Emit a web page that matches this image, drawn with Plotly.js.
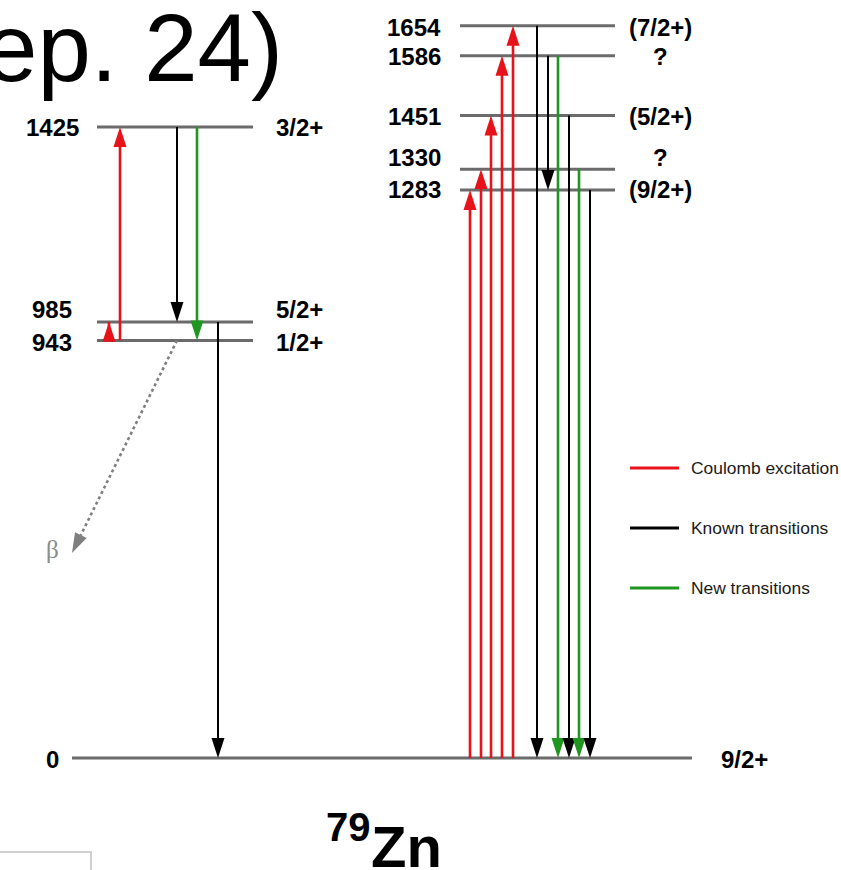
<!DOCTYPE html>
<html><head><meta charset="utf-8">
<script src="https://cdn.plot.ly/plotly-3.0.1.min.js"></script>
<style>html,body{margin:0;padding:0;background:#fff;overflow:hidden}#chart{width:841px;height:870px}</style>
</head><body><div id="chart"></div>
<script>
// ---------------- data ----------------
const leftLevelEnergies = [943, 985, 1425];
const leftLevelSpins = ['1/2+', '5/2+', '3/2+'];
const rightLevelEnergies = [1283, 1330, 1451, 1586, 1654];
const rightLevelSpins = ['(9/2+)', '?', '(5/2+)', '?', '(7/2+)'];
const groundEnergy = 0;
const groundSpin = '9/2+';
const transFrom = [943, 943, 1425, 1425, 985, 0, 0, 0, 0, 0, 1654, 1586, 1586, 1451, 1330, 1283];
const transTo   = [985, 1425, 985, 943, 0, 1283, 1330, 1451, 1586, 1654, 0, 1283, 0, 0, 0, 0];
const transType = ['coulex', 'coulex', 'known', 'new', 'known',
                   'coulex', 'coulex', 'coulex', 'coulex', 'coulex',
                   'known', 'known', 'new', 'known', 'new', 'known'];
const legendTypes = ['coulex', 'known', 'new'];
const legendLabels = ['Coulomb excitation', 'Known transitions', 'New transitions'];
const nucleusMass = '79';
const nucleusSymbol = 'Zn';
const titleFragment = 'ep. 24)';
const betaLabel = 'β';
const betaFromLevel = 943;

// ---------------- layout / style ----------------
const W = 841, H = 870;
const Y_RANGE = [-253, 1712];
const COLORS = {coulex: '#e8121a', known: '#000000', new: '#1f961f'};
const WIDTHS = {coulex: 2.6, known: 2, new: 2.6};
const LEVEL_COLOR = '#6b6b6b';
const ARROW_SIZE = 21;
const transX = [109, 120, 177, 197, 218, 470, 481, 491, 502, 513, 537, 548, 558, 569, 579, 590];
const leftSpan = [97, 253], rightSpan = [460, 615], groundSpan = [72, 692];
const leftEnergyLabelX = 52, leftSpinLabelX = 299;
const rightEnergyLabelX = 414, rightSpinLabelX = 660;
const groundEnergyLabelX = 52, groundSpinLabelX = 744;
const leftLabelShift = [-2, 12, 0];
const rightLabelShift = [0, 12, -1, -1, -2];
const betaStartX = 177, betaEndPx = [72, 553];
const FONT = 'Liberation Sans, Arial, Helvetica, sans-serif';

const pyToY = py => Y_RANGE[1] - py / H * (Y_RANGE[1] - Y_RANGE[0]);
const pyToPaper = py => 1 - py / H;

const traces = [];
const annotations = [];
const shapes = [];

// level lines
function addLevels(energies, span) {
  const xs = [], ys = [];
  energies.forEach(e => { xs.push(span[0], span[1], null); ys.push(e, e, null); });
  traces.push({x: xs, y: ys, mode: 'lines', line: {color: LEVEL_COLOR, width: 3}, hoverinfo: 'skip'});
}
addLevels(leftLevelEnergies, leftSpan);
addLevels(rightLevelEnergies, rightSpan);
addLevels([groundEnergy], groundSpan);

// transitions (arrows)
transFrom.forEach((f, i) => {
  const t = transType[i];
  traces.push({
    x: [transX[i], transX[i]], y: [f, transTo[i]], mode: 'lines+markers',
    line: {color: COLORS[t], width: WIDTHS[t]},
    marker: {symbol: 'arrow', size: ARROW_SIZE, angleref: 'previous', color: COLORS[t], line: {width: 0}},
    hoverinfo: 'skip'
  });
});

// beta decay arrow
traces.push({
  x: [betaStartX, betaEndPx[0]], y: [betaFromLevel, pyToY(betaEndPx[1])], mode: 'lines+markers',
  line: {color: '#7f7f7f', width: 2.6, dash: 'dot'},
  marker: {symbol: 'arrow', size: ARROW_SIZE, angleref: 'previous', color: '#7f7f7f', line: {width: 0}},
  hoverinfo: 'skip'
});

// level labels
function lab(x, y, text, shift, size) {
  annotations.push({x: x, y: y, xref: 'x', yref: 'y', text: text, showarrow: false,
    xanchor: 'center', yanchor: 'middle', yshift: shift,
    font: {family: FONT, size: size || 24, color: '#000', weight: 'bold'}});
}
leftLevelEnergies.forEach((e, i) => {
  lab(leftEnergyLabelX, e, '<b>' + e + '</b>', leftLabelShift[i]);
  lab(leftSpinLabelX, e, '<b>' + leftLevelSpins[i] + '</b>', leftLabelShift[i]);
});
rightLevelEnergies.forEach((e, i) => {
  lab(rightEnergyLabelX, e, '<b>' + e + '</b>', rightLabelShift[i]);
  lab(rightSpinLabelX, e, '<b>' + rightLevelSpins[i] + '</b>', rightLabelShift[i]);
});
lab(groundEnergyLabelX, groundEnergy, '<b>' + groundEnergy + '</b>', -2);
lab(groundSpinLabelX, groundEnergy, '<b>' + groundSpin + '</b>', -2);

// beta label
annotations.push({x: 52, y: pyToPaper(549), xref: 'x', yref: 'paper', text: betaLabel, showarrow: false,
  xanchor: 'center', yanchor: 'middle', font: {family: 'Liberation Serif, DejaVu Serif, serif', size: 25, color: '#8a8a8a'}});

// legend
legendTypes.forEach((t, i) => {
  const py = 468 + i * 60;
  shapes.push({type: 'line', xref: 'x', yref: 'paper', x0: 630, x1: 679, y0: pyToPaper(py), y1: pyToPaper(py),
    line: {color: COLORS[t], width: 3}});
  annotations.push({x: 689, y: pyToPaper(py), xref: 'x', yref: 'paper', text: legendLabels[i], showarrow: false,
    xanchor: 'left', yanchor: 'middle', font: {family: FONT, size: 17.4, color: '#1a1a1a'}});
});

// title fragment (cropped at the left edge, as in the reference)
annotations.push({x: 285, y: pyToPaper(47), xref: 'x', yref: 'paper', text: titleFragment, showarrow: false,
  xanchor: 'right', yanchor: 'middle', font: {family: FONT, size: 96, color: '#000'}});

// nucleus label
annotations.push({x: 369, y: pyToPaper(846), xref: 'x', yref: 'paper', text: '<b>' + nucleusSymbol + '</b>', showarrow: false,
  xanchor: 'left', yanchor: 'middle', font: {family: FONT, size: 58, color: '#000'}});
annotations.push({x: 324, y: pyToPaper(827), xref: 'x', yref: 'paper', text: '<b>' + nucleusMass + '</b>', showarrow: false,
  xanchor: 'left', yanchor: 'middle', font: {family: FONT, size: 40, color: '#000'}});

// cropped box at bottom-left
shapes.push({type: 'rect', xref: 'x', yref: 'paper', x0: -2, x1: 91, y0: pyToPaper(852), y1: pyToPaper(875),
  line: {color: '#cfcfcf', width: 2}, fillcolor: 'rgba(0,0,0,0)'});

const layout = {
  width: W, height: H, margin: {l: 0, r: 0, t: 0, b: 0},
  paper_bgcolor: '#ffffff', plot_bgcolor: '#ffffff', showlegend: false,
  xaxis: {range: [0, W], visible: false, fixedrange: true},
  yaxis: {range: Y_RANGE, visible: false, fixedrange: true},
  annotations: annotations, shapes: shapes
};
Plotly.newPlot('chart', traces, layout, {staticPlot: true, displayModeBar: false});
</script></body></html>
